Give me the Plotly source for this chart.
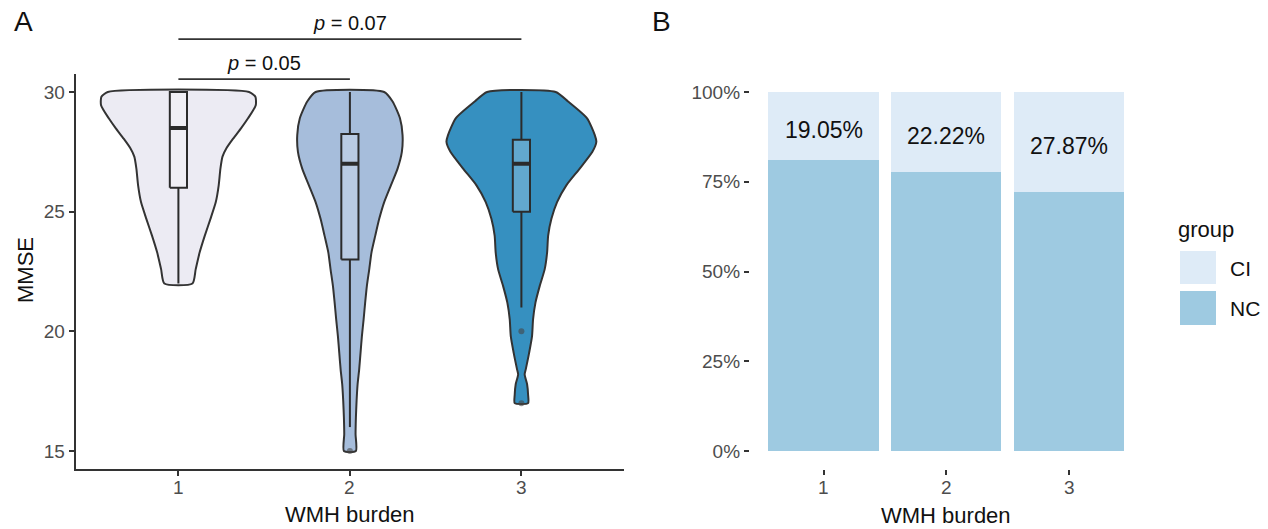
import plotly.graph_objects as go

W, H = 1268, 529
FONT = "Liberation Sans, Arial, Helvetica, sans-serif"

# ---------------- Panel A: MMSE by WMH burden ----------------
groups = [1, 2, 3]
violin_fill = ["#ECEBF3", "#A6BDDB", "#3690C0"]
box_fill = "rgba(255,255,255,0.22)"

# violin outlines: MMSE level and half-width (in x units) of each group's density
v1_mmse = [30.0, 29.8, 29.45, 28.9, 28.5, 28.05, 27.65, 27.3, 26.8, 26.1, 25.4, 24.7, 24.0, 23.3, 22.6, 22.0]
v1_half = [0.412, 0.449, 0.451, 0.406, 0.367, 0.319, 0.280, 0.257, 0.245, 0.235, 0.218, 0.187, 0.154, 0.124, 0.101, 0.082]

v2_mmse = [30.0, 29.6, 28.9, 28.2, 27.5, 26.8, 26.1, 25.4, 24.7, 24.0, 23.3, 22.6, 21.9, 21.2, 20.5,
           19.8, 19.1, 18.4, 17.8, 17.1, 16.4, 15.7, 15.0]
v2_half = [0.200, 0.249, 0.292, 0.307, 0.303, 0.278, 0.239, 0.200, 0.171, 0.148, 0.126, 0.113, 0.099, 0.089, 0.080,
           0.070, 0.062, 0.054, 0.045, 0.039, 0.035, 0.033, 0.035]

v3_mmse = [30.0, 29.6, 28.9, 28.2, 27.92, 27.5, 26.8, 26.1, 25.4, 24.7, 24.0, 23.3, 22.6, 21.9, 21.2,
           20.5, 19.8, 19.1, 18.4, 18.2, 17.8, 17.35, 17.0]
v3_half = [0.200, 0.272, 0.383, 0.428, 0.437, 0.414, 0.340, 0.262, 0.208, 0.175, 0.156, 0.150, 0.136, 0.107, 0.082,
           0.068, 0.062, 0.045, 0.025, 0.019, 0.033, 0.039, 0.039]

violin_mmse = [v1_mmse, v2_mmse, v3_mmse]
violin_half = [v1_half, v2_half, v3_half]

# box-plot summaries
box_q1 = [26, 23, 25]
box_median = [28.5, 27, 27]
box_q3 = [30, 28.25, 28]
box_low = [22, 16, 21]
box_high = [30, 30, 30]
box_width = 0.1

outlier_group = [2, 3, 3]
outlier_mmse = [15, 20, 17]

# pairwise comparisons
comp_from = [1, 1]
comp_to = [2, 3]
comp_y = [30.54, 32.21]
comp_p = ["0.05", "0.07"]

# ---------------- Panel B: group share by WMH burden ----------------
bar_groups = [1, 2, 3]
ci_pct = [19.05, 22.22, 27.87]
nc_pct = [80.95, 77.78, 72.13]
ci_color = "#DEEBF7"
nc_color = "#9ECAE1"

# ---------------- layout geometry (pixels) ----------------
panel_top, panel_bottom = 74.05, 468.95
a_left, a_right = 75.5, 624.3
b_left, b_right = 749.85, 1142.65


def px_x(p):
    return p / W


def px_y(p):
    return 1 - p / H


fig = go.Figure()
INK = "#2B2B2B"

for g, mm, hw, col in zip(groups, violin_mmse, violin_half, violin_fill):
    xs = [g - h for h in hw] + [g + h for h in reversed(hw)] + [g - hw[0]]
    ys = list(mm) + list(reversed(mm)) + [mm[0]]
    fig.add_trace(go.Scatter(
        x=xs, y=ys, mode="lines", fill="toself", fillcolor=col,
        line=dict(color="#333333", width=2.0, shape="spline", smoothing=0.6),
        hoverinfo="skip", showlegend=False, xaxis="x", yaxis="y"))

half_box = box_width / 2
for i, g in enumerate(groups):
    # whiskers
    fig.add_trace(go.Scatter(
        x=[g, g, None, g, g], y=[box_q3[i], box_high[i], None, box_q1[i], box_low[i]],
        mode="lines", line=dict(color=INK, width=2.0),
        hoverinfo="skip", showlegend=False, xaxis="x", yaxis="y"))
    # box body
    fig.add_trace(go.Scatter(
        x=[g - half_box, g + half_box, g + half_box, g - half_box, g - half_box],
        y=[box_q1[i], box_q1[i], box_q3[i], box_q3[i], box_q1[i]],
        mode="lines", fill="toself", fillcolor=box_fill, line=dict(color=INK, width=2.0),
        hoverinfo="skip", showlegend=False, xaxis="x", yaxis="y"))
    # median
    fig.add_trace(go.Scatter(
        x=[g - half_box, g + half_box], y=[box_median[i]] * 2,
        mode="lines", line=dict(color=INK, width=4.0),
        hoverinfo="skip", showlegend=False, xaxis="x", yaxis="y"))

fig.add_trace(go.Scatter(
    x=outlier_group, y=outlier_mmse, mode="markers",
    marker=dict(size=6, color="rgba(70,70,70,0.6)"),
    showlegend=False, xaxis="x", yaxis="y"))

# comparison brackets live on an unclipped axis that shares the MMSE scale
for a, b, yv in zip(comp_from, comp_to, comp_y):
    fig.add_trace(go.Scatter(
        x=[a, b], y=[yv, yv], mode="lines", line=dict(color="#333333", width=1.6),
        hoverinfo="skip", showlegend=False, xaxis="x", yaxis="y3"))

# stacked bars
fig.add_trace(go.Bar(x=bar_groups, y=nc_pct, width=0.9, marker=dict(color=nc_color, line=dict(width=0)),
                     name="NC", showlegend=False, xaxis="x2", yaxis="y2"))
fig.add_trace(go.Bar(x=bar_groups, y=ci_pct, width=0.9, marker=dict(color=ci_color, line=dict(width=0)),
                     name="CI", showlegend=False, xaxis="x2", yaxis="y2"))

# y scale: 15..30 expanded by 5%
mmse_lo, mmse_hi = 15, 30
pad = 0.05 * (mmse_hi - mmse_lo)
y_lo, y_hi = mmse_lo - pad, mmse_hi + pad
px_per_unit = (panel_bottom - panel_top) / (y_hi - y_lo)
y3_hi = y_lo + panel_bottom / px_per_unit

dom_y = [px_y(panel_bottom), px_y(panel_top)]

tickfont = dict(family=FONT, size=19, color="#4D4D4D")
axis_common = dict(showgrid=False, zeroline=False, ticks="outside", ticklen=5,
                   tickwidth=1.5, tickcolor="#333333", tickfont=tickfont)

fig.update_layout(
    width=W, height=H, margin=dict(l=0, r=0, t=0, b=0),
    paper_bgcolor="white", plot_bgcolor="rgba(0,0,0,0)",
    barmode="stack", showlegend=False, font=dict(family=FONT),
    xaxis=dict(domain=[px_x(a_left), px_x(a_right)], range=[0.4, 3.6], anchor="y",
               tickvals=groups, showticklabels=False,
               showline=True, linecolor="#333333", linewidth=1.8, **axis_common),
    yaxis=dict(domain=dom_y, range=[y_lo, y_hi], anchor="x",
               tickvals=[15, 20, 25, 30], showline=True, linecolor="#333333", linewidth=1.8, **axis_common),
    yaxis3=dict(domain=[px_y(panel_bottom), 1], range=[y_lo, y3_hi], anchor="x", visible=False),
    xaxis2=dict(domain=[px_x(b_left), px_x(b_right)], range=[0.4, 3.6], anchor="y2",
                tickvals=bar_groups, showticklabels=False, showline=False, **axis_common),
    yaxis2=dict(domain=dom_y, range=[-5, 105], anchor="x2",
                tickvals=[0, 25, 50, 75, 100], ticktext=["0%", "25%", "50%", "75%", "100%"],
                showline=False, **axis_common),
)

ann = []
# x tick labels for both panels
for xr, cats in (("x", groups), ("x2", bar_groups)):
    for g in cats:
        ann.append(dict(x=g, y=px_y(487), xref=xr, yref="paper", xanchor="center", yanchor="middle",
                        text=str(g), showarrow=False, font=tickfont))
# p-value labels
for a, b, yv, p in zip(comp_from, comp_to, comp_y, comp_p):
    ann.append(dict(x=(a + b) / 2, y=yv, xref="x", yref="y3", xanchor="center", yanchor="bottom", yshift=3,
                    text=f"<i>p</i> = {p}", showarrow=False,
                    font=dict(family=FONT, size=20, color="#111111")))
# percentage labels inside the CI segments
for g, ci in zip(bar_groups, ci_pct):
    ann.append(dict(x=g, y=100 - ci / 2, xref="x2", yref="y2", yshift=-4,
                    xanchor="center", yanchor="middle",
                    text=f"{ci:.2f}%", showarrow=False,
                    font=dict(family=FONT, size=23, color="#111111")))
# panel tags, axis titles, legend text
title_font = dict(family=FONT, size=22, color="#111111")
label_font = dict(family=FONT, size=21, color="#111111")


def paper_text(x, y, text, font, xanchor="center", angle=0):
    return dict(x=px_x(x), y=px_y(y), xref="paper", yref="paper", xanchor=xanchor, yanchor="middle",
                text=text, showarrow=False, font=font, textangle=angle)


ann += [
    paper_text(12, 22, "A", dict(family=FONT, size=28, color="#111111"), xanchor="left"),
    paper_text(650, 22, "B", dict(family=FONT, size=28, color="#111111"), xanchor="left"),
    paper_text(25, 270, "MMSE", title_font, angle=-90),
    paper_text(350, 514, "WMH burden", title_font),
    paper_text(946, 515, "WMH burden", title_font),
    paper_text(1176, 229, "group", title_font, xanchor="left"),
    paper_text(1228, 268, "CI", label_font, xanchor="left"),
    paper_text(1228, 308, "NC", label_font, xanchor="left"),
]
fig.update_layout(annotations=ann)

# legend keys
fig.update_layout(shapes=[
    dict(type="rect", xref="paper", yref="paper", x0=px_x(1180), x1=px_x(1216),
         y0=px_y(284), y1=px_y(251), fillcolor=ci_color, line=dict(width=0)),
    dict(type="rect", xref="paper", yref="paper", x0=px_x(1180), x1=px_x(1216),
         y0=px_y(325), y1=px_y(291), fillcolor=nc_color, line=dict(width=0)),
])

fig.write_html("out.html")
